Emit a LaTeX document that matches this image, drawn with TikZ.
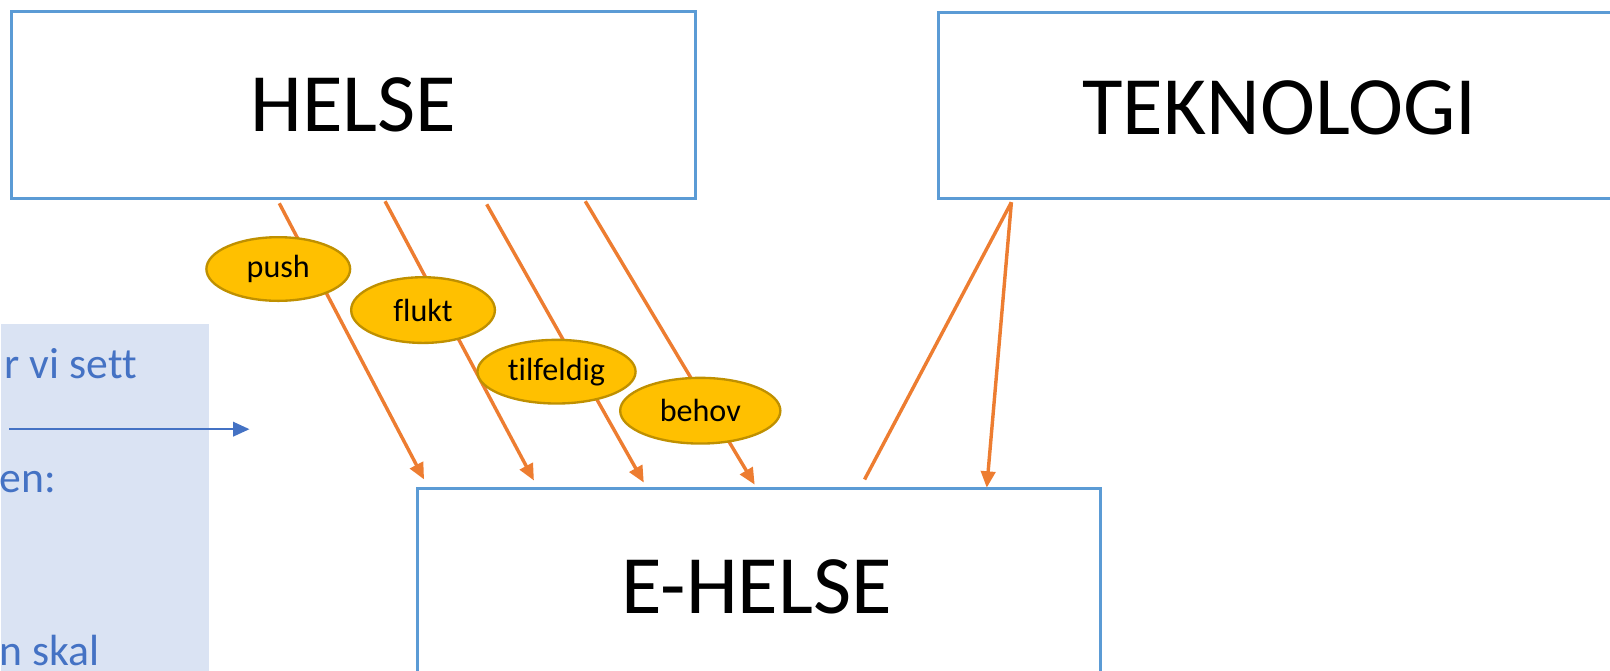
\documentclass[tikz,border=0pt]{standalone}
\usepackage{fontspec}
\setmainfont{Carlito}[Ligatures={NoCommon}]
\usetikzlibrary{shapes.geometric,arrows.meta}
\definecolor{boxblue}{HTML}{5B9BD5}
\definecolor{arrorange}{HTML}{ED7D31}
\definecolor{gold}{HTML}{FFC000}
\definecolor{goldedge}{HTML}{BF9000}
\definecolor{panelbg}{HTML}{DAE3F3}
\definecolor{paneltext}{HTML}{4472C4}
\begin{document}
\begin{tikzpicture}[x=1cm,y=1cm,
  bigbox/.style={draw=boxblue, line width=0.8pt, fill=white, inner sep=0pt},
  bigtext/.style={font=\fontsize{23}{27}\selectfont, text=black, inner sep=0pt},
  tag/.style={ellipse, draw=goldedge, line width=0.65pt, fill=gold, inner sep=0pt, font=\fontsize{8.9}{10}\selectfont},
  flow/.style={draw=arrorange, line width=0.95pt, -{Triangle[length=0.16cm,width=0.14cm]}},
  flowplain/.style={draw=arrorange, line width=0.95pt},
  paneltxt/.style={text=paneltext, font=\fontsize{12.1}{14}\selectfont, anchor=base west, inner sep=0pt}
]
\useasboundingbox (0,0) rectangle (15.68,-6.535);

% left panel
\node[fill=panelbg, inner sep=0pt, minimum width=2.03cm, minimum height=3.5cm, anchor=north west] (panel) at (0,-3.15) {};
\node[paneltxt] (t1) at (0.04,-3.69) {r vi sett};
\node[paneltxt] (t2) at (-0.01,-4.80) {en:};
\node[paneltxt] (t3) at (-0.01,-6.48) {n skal};
\coordinate (bs) at (0.09,-4.18);
\coordinate (be) at (2.43,-4.18);
\draw[paneltext, line width=0.65pt, -{Triangle[length=0.16cm,width=0.14cm]}] (bs) -- (be);

% boxes
\node[bigbox, bigtext, minimum width=6.66cm, minimum height=1.82cm] (helse) at (3.44,-1.02) {HELSE};
\node[bigbox, minimum width=7.0cm, minimum height=1.81cm, anchor=north west] (tek) at (9.13,-0.11) {};
\node[bigtext] (tektext) at (12.46,-1.05) {TEKNOLOGI};
\node[bigbox, minimum width=6.65cm, minimum height=2.4cm, anchor=north west] (ehelse) at (4.05,-4.74) {};
\node[bigtext] (ehelsetext) at (7.37,-5.72) {E-HELSE};

% arrows from HELSE
\coordinate (a1s) at (2.72,-1.98); \coordinate (a1e) at (4.13,-4.67);
\coordinate (a2s) at (3.75,-1.96); \coordinate (a2e) at (5.20,-4.68);
\coordinate (a3s) at (4.74,-1.99); \coordinate (a3e) at (6.27,-4.70);
\coordinate (a4s) at (5.70,-1.96); \coordinate (a4e) at (7.35,-4.72);
\draw[flow] (a1s) -- (a1e);
\draw[flow] (a2s) -- (a2e);
\draw[flow] (a3s) -- (a3e);
\draw[flow] (a4s) -- (a4e);

% arrows from TEKNOLOGI
\coordinate (ts) at (9.85,-1.97);
\coordinate (te1) at (8.42,-4.67);
\coordinate (te2) at (9.61,-4.75);
\draw[flowplain] (ts) -- (te1);
\draw[flow] (ts) -- (te2);

% tags
\node[tag, minimum width=1.40cm, minimum height=0.62cm] (push) at (2.71,-2.62) {push};
\node[tag, minimum width=1.40cm, minimum height=0.64cm] (flukt) at (4.12,-3.02) {flukt};
\node[tag, minimum width=1.54cm, minimum height=0.62cm] (tilfeldig) at (5.42,-3.62) {tilfeldig};
\node[tag, minimum width=1.56cm, minimum height=0.64cm] (behov) at (6.82,-4.00) {behov};
\end{tikzpicture}
\end{document}
